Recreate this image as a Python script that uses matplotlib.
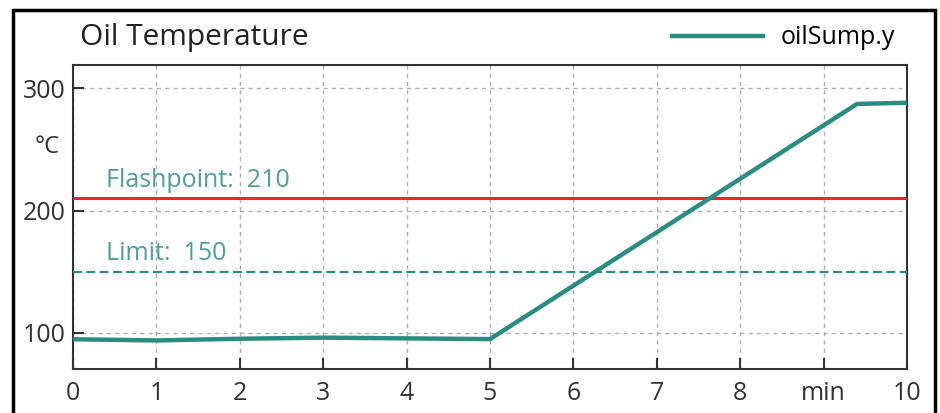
import matplotlib.pyplot as plt
from matplotlib.patches import Rectangle

# data
time_min = [0, 1, 2, 3, 4, 5, 9.4, 10]
oil_temp = [94.9, 93.9, 95.3, 96.2, 95.6, 95.0, 287.0, 288.0]
flashpoint = 210
limit = 150
x_ticks = [0, 1, 2, 3, 4, 5, 6, 7, 8, 9, 10]
x_labels = ['0', '1', '2', '3', '4', '5', '6', '7', '8', 'min', '10']
y_ticks = [100, 200, 300]

teal = '#2b8c84'
teal_text = '#4f9f98'
red = '#e8282c'

plt.rcParams['font.family'] = ['Open Sans', 'DejaVu Sans']

fig = plt.figure(figsize=(9.4, 4.13), dpi=100)
ax = fig.add_axes([73 / 940, 1 - 369 / 413, (907 - 73) / 940, (369 - 65) / 413])

ax.plot(time_min, oil_temp, color=teal, lw=3.2, solid_capstyle='butt', label='oilSump.y', zorder=4)
ax.axhline(flashpoint, color=red, lw=2.2, zorder=3)
ax.axhline(limit, color=teal, lw=1.6, ls=(0, (4, 2)), zorder=3)

ax.text(0.4, flashpoint + 9, 'Flashpoint:  %d' % flashpoint, color=teal_text, fontsize=18, va='baseline')
ax.text(0.4, limit + 10, 'Limit:  %d' % limit, color=teal_text, fontsize=18, va='baseline')

ax.set_xlim(0, 10)
ax.set_ylim(70.6, 318.8)
ax.set_xticks(x_ticks)
ax.set_xticklabels(x_labels)
ax.set_yticks(y_ticks)
ax.tick_params(direction='in', length=8, width=1.5, labelsize=18, colors='#333333', pad=5)
ax.tick_params(axis='x', pad=9)
ax.grid(True, color='#b0b0b0', ls=(0, (3, 3)), lw=1)
for s in ax.spines.values():
    s.set_color('#333333')
    s.set_linewidth(1.5)

fig.text(47 / 940, 1 - 147 / 413, '°C', fontsize=17, color='#333333', ha='center', va='center')
fig.text(80 / 940, 1 - 38 / 413, 'Oil Temperature', fontsize=21.5, color='#222222', va='center')

# legend drawn in the header strip
fig.legend(loc='center right', bbox_to_anchor=(907 / 940, 1 - 38 / 413), frameon=False,
           fontsize=18, handlelength=3.8, handletextpad=0.6, borderpad=0)

# outer frame
fig.patches.append(Rectangle((13 / 940, -0.05), (935 - 13) / 940, 1.05 - 10 / 413,
                             transform=fig.transFigure, fill=False, ec='black', lw=2.5))

fig.savefig('out.png', dpi=100)
